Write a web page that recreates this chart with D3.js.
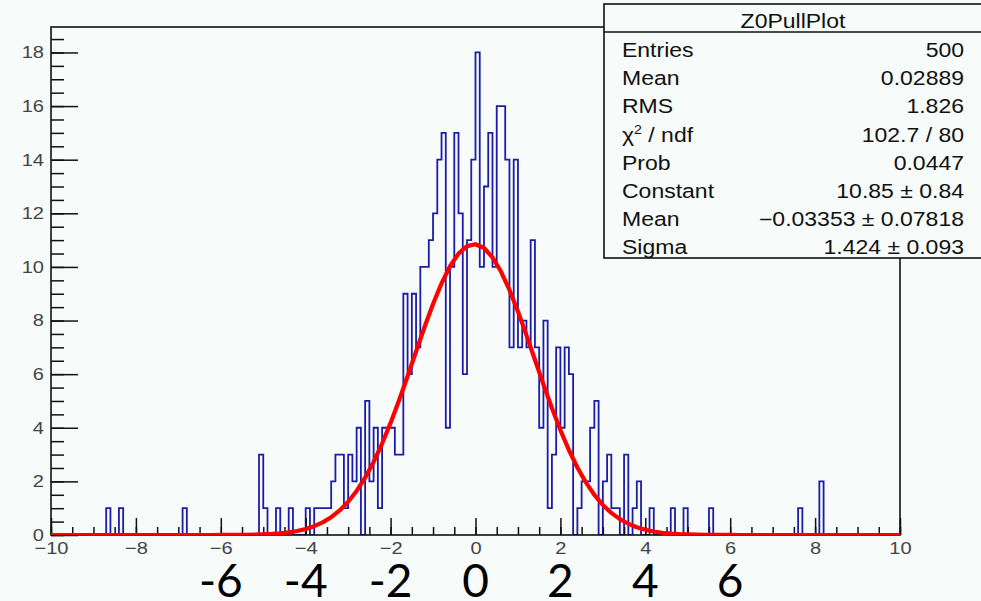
<!DOCTYPE html>
<html>
<head>
<meta charset="utf-8">
<script src="https://cdn.jsdelivr.net/npm/d3@7"></script>
<style>
body { margin: 0; background: #f7fbf9; }
svg { display: block; }
</style>
</head>
<body>
<script>
// non-empty bins of Z0PullPlot (lower edge, count), bin width 0.1 from -10 to 10
var binLow = [-8.7, -8.4, -6.9, -5.1, -5.0, -4.7, -4.4, -4.0, -3.8, -3.7, -3.6, -3.5,
  -3.4, -3.3, -3.2, -3.1, -3.0, -2.9, -2.8, -2.6, -2.5, -2.4, -2.3, -2.2, -2.1, -2.0,
  -1.9, -1.8, -1.7, -1.6, -1.5, -1.4, -1.3, -1.2, -1.1, -1.0, -0.9, -0.8, -0.7, -0.6,
  -0.5, -0.4, -0.3, -0.2, -0.1, 0.0, 0.1, 0.2, 0.3, 0.4, 0.5, 0.6, 0.7, 0.8, 0.9,
  1.0, 1.1, 1.2, 1.3, 1.4, 1.5, 1.6, 1.7, 1.8, 1.9, 2.0, 2.1, 2.2, 2.4, 2.5, 2.6,
  2.7, 2.8, 3.0, 3.1, 3.2, 3.3, 3.5, 3.7, 3.8, 4.1, 4.6, 4.9, 5.5, 7.6, 8.1];
var binCount = [1, 1, 1, 3, 1, 1, 1, 1, 1, 1, 1, 1,
  2, 3, 3, 1, 3, 2, 4, 5, 2, 4, 1, 4, 4, 4,
  3, 3, 9, 6, 9, 7, 10, 10, 11, 12, 14, 15, 4, 10,
  15, 12, 6, 11, 14, 18, 10, 13, 15, 10, 16, 16, 14, 7, 14,
  7, 8, 7, 11, 7, 4, 8, 1, 3, 7, 4, 7, 6, 1, 2, 2,
  4, 5, 2, 3, 1, 1, 3, 1, 2, 1, 1, 1, 1, 1, 2];

var xTicks = [-10, -8, -6, -4, -2, 0, 2, 4, 6, 8, 10];
var yTicks = [0, 2, 4, 6, 8, 10, 12, 14, 16, 18];
var overlayValues = [-6, -4, -2, 0, 2, 4, 6];
var overlayLabels = ["-6", "-4", "-2", "0", "2", "4", "6"];

var statTitle = "Z0PullPlot";
var statNames = ["Entries", "Mean", "RMS", "χ2 / ndf", "Prob", "Constant", "Mean", "Sigma"];
var statValues = ["500", "0.02889", "1.826", "102.7 / 80", "0.0447",
  "10.85 \u00b1 0.84", "\u22120.03353 \u00b1 0.07818", "1.424 \u00b1 0.093"];

// gaus fit parameters from the stats box
var fitConstant = 10.85, fitMean = -0.03353, fitSigma = 1.424;

var W = 981, H = 601;
var bg = "#f7fbf9";
var svg = d3.select("body").append("svg").attr("width", W).attr("height", H);
svg.append("rect").attr("width", W).attr("height", H).attr("fill", bg);

var x = d3.scaleLinear().domain([-10, 10]).range([51, 900]);
var y = d3.scaleLinear().domain([0, 18.95]).range([535, 27]);

svg.append("defs").append("clipPath").attr("id", "frameclip")
  .append("rect").attr("x", x(-10)).attr("y", y(18.95))
  .attr("width", x(10) - x(-10)).attr("height", y(0) - y(18.95));

// full bin array
var nBins = 200, width = 0.1;
var counts = d3.range(nBins).map(function () { return 0; });
binLow.forEach(function (b, i) {
  counts[Math.round((b + 10) / width)] = binCount[i];
});
var steps = counts.map(function (c, i) { return [-10 + i * width, c]; });
steps.push([10, counts[nBins - 1]]);

var stepLine = d3.line()
  .x(function (d) { return x(d[0]); })
  .y(function (d) { return y(d[1]); })
  .curve(d3.curveStepAfter);

svg.append("g").attr("clip-path", "url(#frameclip)")
  .append("path")
  .attr("d", stepLine(steps))
  .attr("fill", "none")
  .attr("stroke", "#1c1caa")
  .attr("stroke-width", 1.8);

// axes
var tickFont = "'Liberation Sans', Arial, sans-serif";
function styleAxis(g) {
  g.select(".domain").remove();
  g.selectAll(".tick line").attr("stroke", "#111").attr("stroke-width", 1.5);
  g.selectAll(".tick text")
    .attr("fill", "#444")
    .attr("font-family", tickFont)
    .attr("font-size", 17)
    .attr("transform", "scale(1.18,1)");
}

var xMinor = d3.range(-10, 10.001, 0.5);
svg.append("g").attr("transform", "translate(0," + y(0) + ")")
  .call(d3.axisBottom(x).tickValues(xMinor).tickSize(-8).tickFormat(""))
  .call(styleAxis);
svg.append("g").attr("transform", "translate(0," + y(0) + ")")
  .call(d3.axisBottom(x).tickValues(xTicks).tickSize(-17).tickPadding(7))
  .call(styleAxis);

var yMinor = d3.range(0, 18.9, 0.5);
svg.append("g").attr("transform", "translate(" + x(-10) + ",0)")
  .call(d3.axisLeft(y).tickValues(yMinor).tickSize(-13).tickFormat(""))
  .call(styleAxis);
svg.append("g").attr("transform", "translate(" + x(-10) + ",0)")
  .call(d3.axisLeft(y).tickValues(yTicks).tickSize(-27).tickPadding(6))
  .call(styleAxis);

// frame
svg.append("rect")
  .attr("x", x(-10)).attr("y", y(18.95))
  .attr("width", x(10) - x(-10)).attr("height", y(0) - y(18.95))
  .attr("fill", "none").attr("stroke", "#111").attr("stroke-width", 1.6);

// fitted gaussian drawn on top, 100 points like ROOT
var fitPts = d3.range(101).map(function (i) {
  var v = -10 + i * 0.2;
  return [v, fitConstant * Math.exp(-0.5 * Math.pow((v - fitMean) / fitSigma, 2))];
});
svg.append("g").attr("clip-path", "url(#frameclip)")
  .append("path")
  .attr("d", d3.line().x(function (d) { return x(d[0]); }).y(function (d) { return y(d[1]); })(fitPts))
  .attr("fill", "none")
  .attr("stroke", "#ff0000")
  .attr("stroke-width", 4.2)
  .attr("stroke-linejoin", "round");

// stats box
var sx = 604, sy = 4, sw = 390, sh = 254, headY = 32;
var stats = svg.append("g");
stats.append("rect").attr("x", sx).attr("y", sy).attr("width", sw).attr("height", sh)
  .attr("fill", bg).attr("stroke", "#111").attr("stroke-width", 1.6);
stats.append("line").attr("x1", sx).attr("x2", sx + sw).attr("y1", headY).attr("y2", headY)
  .attr("stroke", "#111").attr("stroke-width", 1.6);

function statText(tx, ty, anchor) {
  return stats.append("g").attr("transform", "translate(" + tx + "," + ty + ") scale(1.18,1)")
    .append("text")
    .attr("text-anchor", anchor)
    .attr("font-family", tickFont)
    .attr("font-size", 19.5)
    .attr("fill", "#111");
}
statText(793, 28, "middle").text(statTitle);
statNames.forEach(function (n, i) {
  var by = 57 + i * 28.2;
  var t = statText(622, by, "start");
  if (n.indexOf("χ2") === 0) {
    t.append("tspan").text("χ");
    t.append("tspan").attr("font-size", 12).attr("dy", -8).text("2");
    t.append("tspan").attr("dy", 8).text(" / ndf");
  } else {
    t.text(n);
  }
  statText(964, by, "end").text(statValues[i]);
});

// big overlay labels
svg.append("g").selectAll("text").data(overlayValues).enter().append("text")
  .attr("x", function (d) { return x(d); })
  .attr("y", 597)
  .attr("text-anchor", "middle")
  .attr("font-family", "Lato, 'Open Sans', sans-serif")
  .attr("font-size", 46)
  .attr("fill", "#000")
  .text(function (d, i) { return overlayLabels[i]; });
</script>
</body>
</html>
